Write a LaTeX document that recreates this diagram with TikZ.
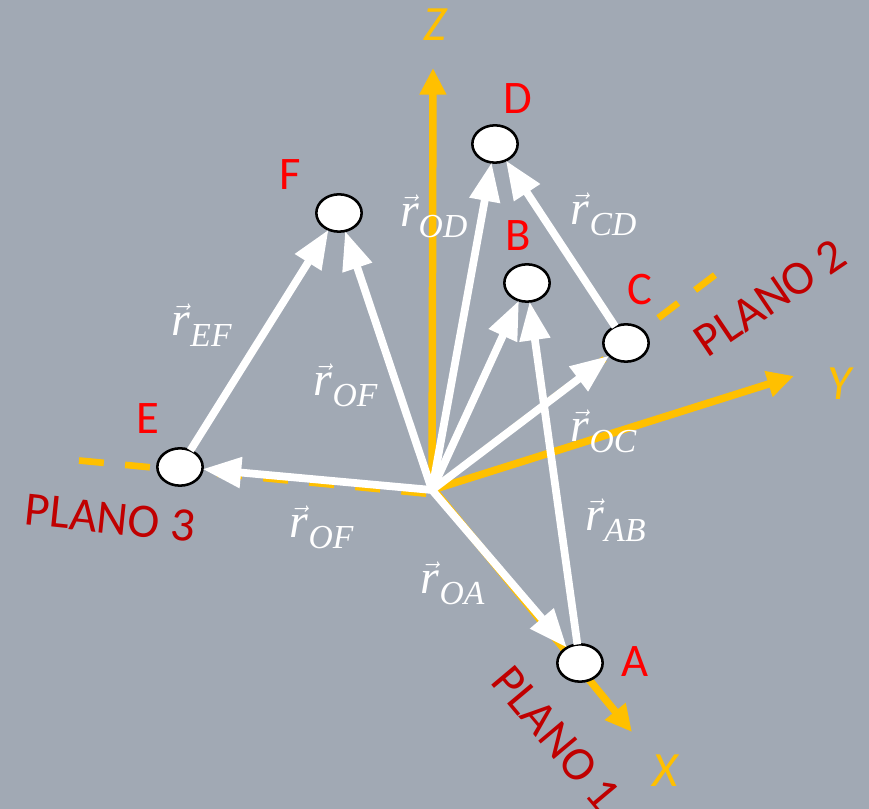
\documentclass[tikz,border=0pt]{standalone}
\usepackage{fontspec}
\setmainfont{Liberation Serif}
\newfontfamily\labelfont{Carlito}
\usepackage{xcolor}
\usetikzlibrary{arrows.meta, shapes.geometric}
\definecolor{bgfill}{HTML}{A1A9B4}
\definecolor{axisgold}{HTML}{FFC000}
\definecolor{ptred}{HTML}{FF0000}
\definecolor{planered}{HTML}{C00000}
\newcommand{\rvec}[1]{$\vec{\mathit{r}}_{\mathit{#1}}$}
\tikzset{
  pt/.style={ellipse, draw=black, fill=white, line width=1.9pt, minimum width=34pt, minimum height=28pt, inner sep=0pt, outer sep=0pt},
  ptlab/.style={text=ptred, font=\labelfont\fontsize{35}{35}\selectfont, inner sep=0pt},
  axlab/.style={text=axisgold, font=\labelfont\itshape\fontsize{37}{37}\selectfont, inner sep=0pt},
  planelab/.style={text=planered, font=\labelfont\fontsize{36}{36}\selectfont, inner sep=0pt},
  veclab/.style={text=white, font=\fontsize{36}{36}\selectfont, inner sep=0pt},
  axarr/.style={-{Triangle[length=20pt, width=19pt]}, line width=5.6pt, draw=axisgold},
  planedash/.style={line width=5pt, draw=axisgold, dash pattern=on 18.7pt off 16pt},
  vecarr/.style={-{Triangle[length=29pt, width=22pt]}, line width=5.8pt, draw=white},
}
\begin{document}
\begin{tikzpicture}[x=0.75pt, y=-0.75pt]
  \fill[bgfill] (0,0) rectangle (869,809);
  \useasboundingbox (0,0) rectangle (869,809);
  % origin and axis ends
  \coordinate (o) at (432,490);
  \coordinate (o3) at (430,494);
  \coordinate (ox) at (434,490);
  \coordinate (zend) at (433,68);
  \coordinate (yend) at (794,376);
  \coordinate (xend) at (632,732);
  \coordinate (plane2end) at (715,275);
  \coordinate (plane3end) at (79,460.5);
  \draw[planedash] (plane3end) -- (o3);
  \draw[planedash] (plane2end) -- (o);
  \draw[axarr] (o) -- (zend);
  \draw[axarr] (o) -- (yend);
  \draw[axarr] (ox) -- (xend);
  % points
  \node[pt] (nA) at (580,663) {};
  \node[pt] (nB) at (527,283) {};
  \node[pt] (nC) at (626,343) {};
  \node[pt] (nD) at (495,144) {};
  \node[pt] (nE) at (180,467) {};
  \node[pt] (nF) at (339,213) {};
  % vectors
  \draw[vecarr] (o) -- (nA);
  \draw[vecarr] (o) -- (nB);
  \draw[vecarr] (o) -- (nC);
  \draw[vecarr] (o) -- (nD);
  \draw[vecarr] (o) -- (nE);
  \draw[vecarr] (o) -- (nF);
  \draw[vecarr] (nA) -- (nB);
  \draw[vecarr] (nC) -- (nD);
  \draw[vecarr] (nE) -- (nF);
  % labels
  \node[ptlab] at (635,662) {A};
  \node[ptlab] at (518,236) {B};
  \node[ptlab] at (640,290) {C};
  \node[ptlab] at (518,99) {D};
  \node[ptlab] at (148,419) {E};
  \node[ptlab] at (290,175) {F};
  \node[axlab] at (435,25) {Z};
  \node[axlab] at (840,384) {Y};
  \node[axlab] at (665,771) {X};
  \node[planelab, rotate=-50] at (556,738) {PLANO 1};
  \node[planelab, rotate=34] at (770,298) {PLANO 2};
  \node[planelab, rotate=-6] at (110,518) {PLANO 3};
  \node[veclab] at (434,216) {\rvec{OD}};
  \node[veclab] at (604,214) {\rvec{CD}};
  \node[veclab] at (202,325) {\rvec{EF}};
  \node[veclab] at (346,385) {\rvec{OF}};
  \node[veclab] at (604,431) {\rvec{OC}};
  \node[veclab] at (616,520) {\rvec{AB}};
  \node[veclab] at (453,583) {\rvec{OA}};
  \node[veclab] at (322,527) {\rvec{OF}};
\end{tikzpicture}
\end{document}
